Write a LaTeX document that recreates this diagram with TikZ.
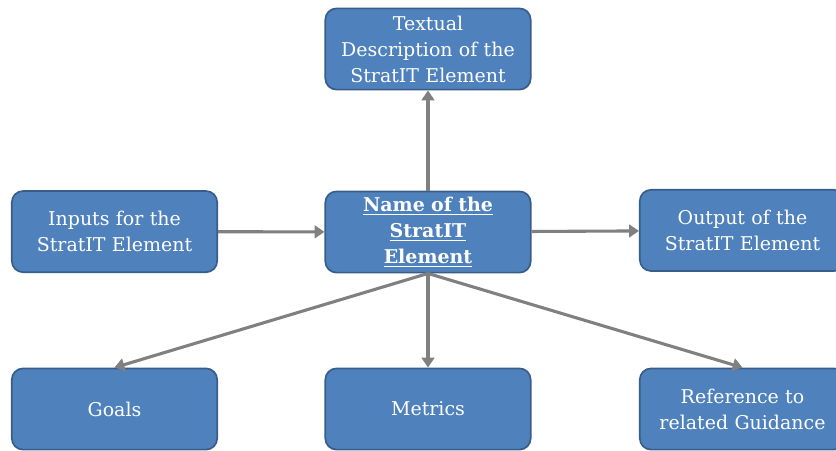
\documentclass[tikz,border=0pt]{standalone}
\usepackage{fontspec}
\setmainfont{DejaVu Serif}
\usepackage{xcolor}
\usetikzlibrary{positioning,calc,arrows.meta}
\definecolor{boxblue}{RGB}{79, 129, 189}
\definecolor{boxedge}{RGB}{56, 93, 138}
\definecolor{arrowgray}{RGB}{128, 128, 128}

\begin{document}
\begin{tikzpicture}[
    elem/.style={draw=boxedge,line width=1.2pt,fill=boxblue,rounded corners=8pt,
        minimum width=5.1cm,minimum height=2.03cm,text width=4.9cm,align=center,
        text=white,font=\fontsize{13.5}{18.5}\selectfont},
    link/.style={draw=arrowgray,line width=2.2pt,-{Triangle[length=7pt,width=9pt]}}
    ]
        \useasboundingbox (0,0) rectangle (20.9,-11.25);

        % Boxes
        \node[elem] (name) at (10.7,-5.8) {\textbf{\underline{Name of the}}\\\textbf{\underline{StratIT}}\\\textbf{\underline{Element}}};
        \node[elem] (desc) at (10.7,-1.225) {Textual\\Description of the\\StratIT Element};
        \node[elem] (inputs) at (2.8625,-5.79) {Inputs for the\\StratIT Element};
        \node[elem] (output) at (18.5625,-5.76) {Output of the\\StratIT Element};
        \node[elem] (goals) at (2.8625,-10.225) {Goals};
        \node[elem] (metrics) at (10.7,-10.225) {Metrics};
        \node[elem] (guidance) at (18.5625,-10.225) {Reference to\\related Guidance};

        % Arrows
        \draw[link] (name) -- (desc);
        \draw[link] (inputs) -- (name);
        \draw[link] (name) -- (output);
        \draw[link] (name.south) -- (goals.north);
        \draw[link] (name.south) -- (metrics.north);
        \draw[link] (name.south) -- (guidance.north);
    \end{tikzpicture}
\end{document}
